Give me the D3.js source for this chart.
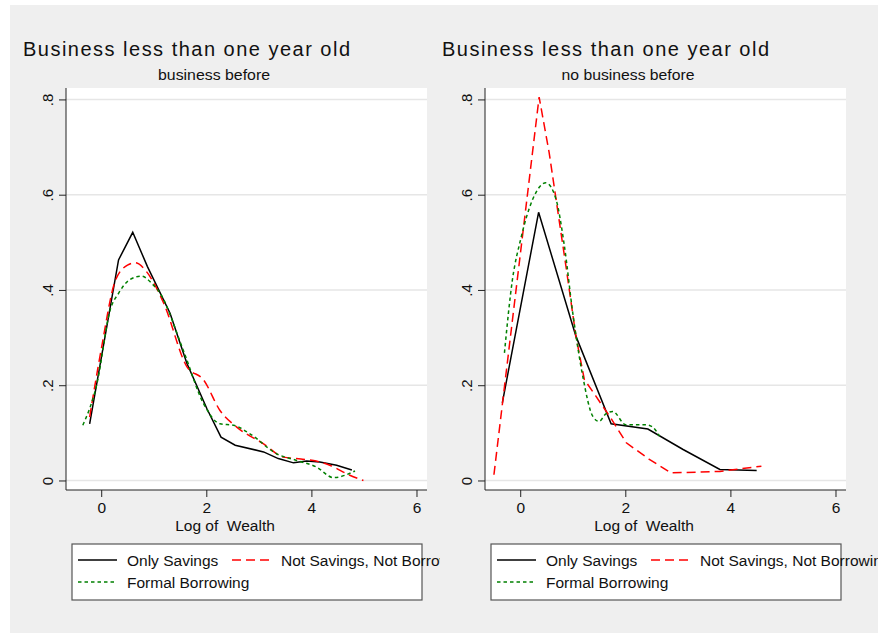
<!DOCTYPE html>
<html>
<head>
<meta charset="utf-8">
<script src="https://cdn.jsdelivr.net/npm/d3@7"></script>
<style>
  body { margin: 0; background: #fff; }
  svg text { font-family: "Liberation Sans", Arial, sans-serif; fill: #111; }
</style>
</head>
<body>
<div id="chart"></div>
<script>
// Data: [log of wealth, density]
var titleText = "Business less than one year old";
var subtitles = ["business before", "no business before"];
var xTicks = [0, 2, 4, 6];
var yTicks = [0, 0.2, 0.4, 0.6, 0.8];
var yTickLabels = ["0", ".2", ".4", ".6", ".8"];
var seriesNames = ["Only Savings", "Not Savings, Not Borrowing", "Formal Borrowing"];

var beforeSavings = [[-0.22,0.119],[0.33,0.463],[0.60,0.521],[0.88,0.449],[1.31,0.351],[1.63,0.246],[2.01,0.151],
  [2.28,0.091],[2.55,0.074],[3.09,0.060],[3.37,0.046],[3.66,0.037],[3.91,0.041],[4.16,0.039],[4.48,0.032],[4.77,0.022]];
var beforeNeither = [[-0.22,0.133],[0.0,0.275],[0.27,0.420],[0.50,0.452],[0.65,0.457],[0.85,0.44],[1.19,0.372],[1.63,0.239],
  [1.95,0.211],[2.26,0.147],[2.58,0.112],[3.09,0.077],[3.47,0.049],[3.80,0.045],[4.04,0.042],[4.35,0.032],[4.73,0.011],[4.99,0.0]];
var beforeFormal = [[-0.35,0.116],[-0.08,0.204],[0.17,0.358],[0.33,0.393],[0.55,0.422],[0.77,0.429],[0.95,0.415],[1.12,0.393],
  [1.56,0.274],[1.95,0.161],[2.26,0.119],[2.52,0.116],[2.83,0.098],[3.34,0.056],[3.72,0.042],[4.10,0.028],[4.42,0.006],[4.83,0.020]];

var noBeforeSavings = [[-0.34,0.163],[0.35,0.563],[1.06,0.303],[1.73,0.119],[2.43,0.108],[3.10,0.065],[3.80,0.023],[4.50,0.021]];
var noBeforeNeither = [[-0.50,0.012],[0.36,0.805],[0.55,0.689],[0.87,0.45],[1.06,0.303],[1.22,0.212],[1.44,0.177],[1.73,0.13],
  [2.02,0.079],[2.45,0.045],[2.87,0.016],[3.80,0.019],[4.59,0.030]];
var noBeforeFormal = [[-0.30,0.268],[-0.15,0.42],[0.01,0.507],[0.24,0.591],[0.49,0.625],[0.68,0.591],[0.84,0.493],[1.00,0.352],
  [1.19,0.219],[1.38,0.135],[1.50,0.124],[1.63,0.14],[1.76,0.145],[2.01,0.117],[2.39,0.117],[2.52,0.112],[2.65,0.093]];

var styles = [
  { color: "#000000", dash: null },
  { color: "#ff0000", dash: "9,5" },
  { color: "#008000", dash: "3.5,3" }
];

var svg = d3.select("#chart").append("svg")
  .attr("width", 880)
  .attr("height", 634);

svg.append("rect")
  .attr("x", 10).attr("y", 5)
  .attr("width", 868).attr("height", 628)
  .attr("fill", "#efefef");

/*
 * One panel of the combined graph
 */
var Panel = function(_left, _clipRight, _subtitle, _subX, _subLen, _series, _curves){
  this.left = _left;
  this.clipRight = _clipRight;
  this.subtitle = _subtitle;
  this.subX = _subX;
  this.subLen = _subLen;
  this.series = _series;
  this.curves = _curves;
  this.draw();
}

Panel.prototype.draw = function(){
  var vis = this;
  var id = "clip" + Math.round(vis.left);

  svg.append("clipPath").attr("id", id)
    .append("rect")
      .attr("x", vis.left - 70).attr("y", 0)
      .attr("width", vis.clipRight - vis.left + 70).attr("height", 634);

  var g = svg.append("g").attr("clip-path", "url(#" + id + ")");

  vis.x = d3.scaleLinear().domain([-0.67, 6.2]).range([vis.left, vis.left + 361]);
  vis.y = d3.scaleLinear().domain([-0.02, 0.824]).range([490, 88]);

  // titles
  g.append("text")
    .attr("x", vis.left - 43).attr("y", 56)
    .attr("font-size", 20)
    .attr("textLength", 327)
    .text(titleText);
  g.append("text")
    .attr("x", vis.subX).attr("y", 80)
    .attr("font-size", 15.5)
    .attr("text-anchor", "middle")
    .attr("textLength", vis.subLen)
    .attr("lengthAdjust", "spacingAndGlyphs")
    .text(vis.subtitle);

  // plot region + grid
  g.append("rect")
    .attr("x", vis.left).attr("y", 88)
    .attr("width", 361).attr("height", 402)
    .attr("fill", "#fff");
  g.selectAll(".grid")
    .data(yTicks)
    .enter().append("line")
      .attr("x1", vis.left).attr("x2", vis.left + 361)
      .attr("y1", function(d){ return vis.y(d); })
      .attr("y2", function(d){ return vis.y(d); })
      .attr("stroke", "#e6e6e6")
      .attr("stroke-width", 1.5);

  // curves
  vis.series.forEach(function(s, i){
    var line = d3.line()
      .x(function(d){ return vis.x(d[0]); })
      .y(function(d){ return vis.y(d[1]); })
      .curve(vis.curves[i]);
    g.append("path")
      .attr("d", line(s))
      .attr("fill", "none")
      .attr("stroke", styles[i].color)
      .attr("stroke-width", 1.5)
      .attr("stroke-dasharray", styles[i].dash);
  });

  // axes
  var yAxis = d3.axisLeft(vis.y)
    .tickValues(yTicks)
    .tickSize(7)
    .tickFormat(function(d, i){ return yTickLabels[i]; });
  var yg = g.append("g")
    .attr("transform", "translate(" + vis.left + ",0)")
    .call(yAxis);
  yg.select(".domain").attr("d", "M0,88V490").attr("stroke", "#222");
  yg.selectAll(".tick line").attr("stroke", "#222");
  yg.selectAll(".tick text")
    .attr("font-size", 15)
    .attr("font-family", "Liberation Sans, Arial, sans-serif")
    .attr("x", null).attr("dy", null)
    .attr("text-anchor", "middle")
    .attr("transform", "translate(-19,0) rotate(-90)")
    .attr("dominant-baseline", "central");

  var xAxis = d3.axisBottom(vis.x)
    .tickValues(xTicks)
    .tickSize(7)
    .tickFormat(d3.format("d"));
  var xg = g.append("g")
    .attr("transform", "translate(0,490)")
    .call(xAxis);
  xg.select(".domain").attr("d", "M" + vis.left + ",0H" + (vis.left + 361)).attr("stroke", "#222");
  xg.selectAll(".tick line").attr("stroke", "#222");
  xg.selectAll(".tick text")
    .attr("font-size", 15.5)
    .attr("font-family", "Liberation Sans, Arial, sans-serif")
    .attr("y", 23).attr("dy", null);

  g.append("text")
    .attr("x", vis.left + 159).attr("y", 531)
    .attr("font-size", 15.5)
    .attr("text-anchor", "middle")
    .attr("xml:space", "preserve")
    .text("Log of  Wealth");

  // legend
  var lx = vis.left + 6;
  g.append("rect")
    .attr("x", lx).attr("y", 544)
    .attr("width", 350).attr("height", 56)
    .attr("fill", "#fff")
    .attr("stroke", "#555")
    .attr("stroke-width", 1.2);
  var legendPos = [[lx + 6, 560], [lx + 160, 560], [lx + 6, 582]];
  legendPos.forEach(function(p, i){
    g.append("line")
      .attr("x1", p[0]).attr("x2", p[0] + 39)
      .attr("y1", p[1]).attr("y2", p[1])
      .attr("stroke", styles[i].color)
      .attr("stroke-width", 1.5)
      .attr("stroke-dasharray", styles[i].dash);
    g.append("text")
      .attr("x", p[0] + 49).attr("y", p[1] + 5.5)
      .attr("font-size", 15.5)
      .text(seriesNames[i]);
  });
}

new Panel(66, 440, subtitles[0], 214, 112, [beforeSavings, beforeNeither, beforeFormal],
  [d3.curveLinear, d3.curveMonotoneX, d3.curveMonotoneX]);
new Panel(485, 878, subtitles[1], 628, 133, [noBeforeSavings, noBeforeNeither, noBeforeFormal],
  [d3.curveLinear, d3.curveLinear, d3.curveMonotoneX]);
</script>
</body>
</html>
